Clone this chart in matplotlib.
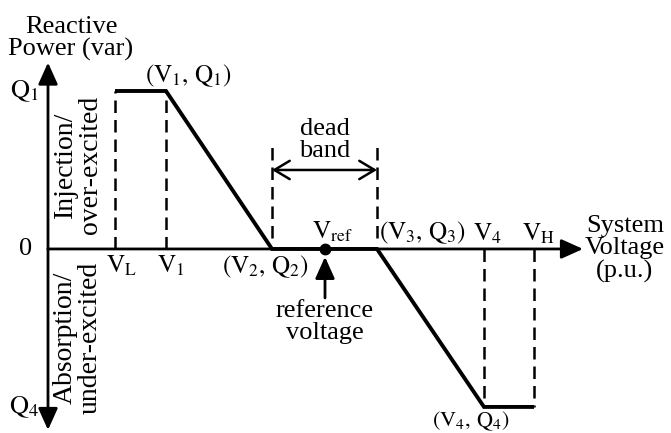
import matplotlib
matplotlib.use("Agg")
import matplotlib.pyplot as plt

plt.rcParams['font.family'] = ['Liberation Serif', 'DejaVu Serif']
plt.rcParams['mathtext.fontset'] = 'stix'

# Voltage breakpoints (arbitrary units along the voltage axis)
V_L, V_1, V_2, V_ref, V_3, V_4, V_H = 0.67, 1.18, 2.24, 2.77, 3.29, 4.36, 4.86
# Reactive power levels
Q_1, Q_4 = 1.0, -1.0

# Volt-var characteristic
curve_v = [V_L, V_1, V_2, V_3, V_4, V_H]
curve_q = [Q_1, Q_1, 0.0, 0.0, Q_4, Q_4]

dead_band_top = 0.66
FS = 19
LS = 18

fig = plt.figure(figsize=(6.71, 4.33), dpi=100)
ax = fig.add_axes([0, 0, 1, 1])
ax.set_xlim(-0.48, 6.23)
ax.set_ylim(-1.165, 1.576)
ax.axis('off')

axis_arrow = dict(arrowstyle='-|>,head_length=0.6,head_width=0.27',
                  mutation_scale=22, lw=2.0, color='black',
                  shrinkA=0, shrinkB=0)

# axes with arrows
ax.annotate('', xy=(5.35, 0), xytext=(0, 0), arrowprops=axis_arrow)
ax.annotate('', xy=(0, 1.18), xytext=(0, 0), arrowprops=axis_arrow)
ax.annotate('', xy=(0, -1.146), xytext=(0, 0), arrowprops=axis_arrow)

# characteristic
ax.plot(curve_v, curve_q, color='black', lw=2.8, solid_joinstyle='miter',
        solid_capstyle='butt')

# dashed guides
dash = dict(color='black', lw=1.8, ls=(0, (5, 2.8)))
for v in (V_L, V_1):
    ax.plot([v, v], [0, Q_1], **dash)
for v in (V_4, V_H):
    ax.plot([v, v], [0, Q_4], **dash)
for v in (V_2, V_3):
    ax.plot([v, v], [0.07, dead_band_top], **dash)

# dead band arrow
ax.annotate('', xy=(V_2, 0.5), xytext=(V_3, 0.5),
            arrowprops=dict(arrowstyle='<->,head_length=0.5,head_width=0.3',
                            mutation_scale=22, lw=1.8, color='black',
                            shrinkA=0, shrinkB=0))
ax.text((V_2 + V_3) / 2, 0.55, 'dead\nband', ha='center', va='bottom',
        fontsize=FS, linespacing=1.0)

# reference voltage marker
ax.plot([V_ref], [0], 'o', color='black', ms=7.5)
ax.annotate('', xy=(V_ref, -0.05), xytext=(V_ref, -0.31), arrowprops=axis_arrow)
ax.text(V_ref, -0.32, 'reference\nvoltage', ha='center', va='top',
        fontsize=FS, linespacing=1.0)
ax.text(V_ref - 0.13, 0.03, r'$\mathrm{V}_{\mathrm{ref}}$', ha='left',
        va='bottom', fontsize=LS)

# axis titles
ax.text(0.23, 1.19, 'Reactive\nPower (var)', ha='center', va='bottom',
        fontsize=FS, linespacing=1.0)
ax.text(5.77, 0.0, 'System\nVoltage\n(p.u.)', ha='center', va='center',
        fontsize=FS, linespacing=1.0)

# y tick labels
ax.text(-0.09, Q_1, r'$\mathrm{Q}_1$', ha='right', va='center', fontsize=LS + 1)
ax.text(-0.22, 0, '0', ha='center', va='center', fontsize=FS)
ax.text(-0.09, Q_4, r'$\mathrm{Q}_4$', ha='right', va='center', fontsize=LS + 1)

# voltage labels
ax.text(V_L + 0.06, -0.03, r'$\mathrm{V}_{\mathrm{L}}$', ha='center', va='top', fontsize=LS)
ax.text(V_1 + 0.05, -0.03, r'$\mathrm{V}_1$', ha='center', va='top', fontsize=LS)
ax.text(V_2 - 0.07, -0.03, r'$(\mathrm{V}_2,\,\mathrm{Q}_2)$', ha='center', va='top',
        fontsize=LS)
ax.text(V_3 + 0.02, 0.02, r'$(\mathrm{V}_3,\,\mathrm{Q}_3)$', ha='left', va='bottom',
        fontsize=LS)
ax.text(V_4 + 0.03, 0.02, r'$\mathrm{V}_4$', ha='center', va='bottom', fontsize=LS)
ax.text(V_H + 0.04, 0.02, r'$\mathrm{V}_{\mathrm{H}}$', ha='center', va='bottom',
        fontsize=LS)
ax.text(V_1 + 0.22, Q_1 + 0.01, r'$(\mathrm{V}_1,\,\mathrm{Q}_1)$', ha='center',
        va='bottom', fontsize=LS)
ax.text(V_4 - 0.13, -1.12, r'$(\mathrm{V}_4,\,\mathrm{Q}_4)$', ha='center',
        va='baseline', fontsize=16)

# region labels
ax.text(0.30, 0.53, 'Injection/\nover-excited', rotation=90, ha='center',
        va='center', fontsize=20, linespacing=1.0)
ax.text(0.30, -0.56, 'Absorption/\nunder-excited', rotation=90, ha='center',
        va='center', fontsize=20, linespacing=1.0)

fig.savefig('out.png', dpi=100)
